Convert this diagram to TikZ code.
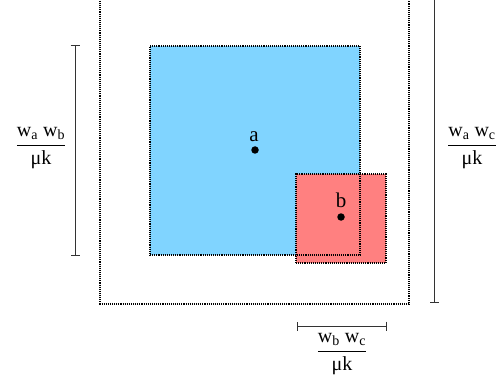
\documentclass[tikz,border=0pt]{standalone}
\usepackage{amsmath}
\usepackage{fontspec}
\setmainfont{Liberation Serif}
\usetikzlibrary{arrows.meta}
\definecolor{skyb}{HTML}{80D4FF}
\definecolor{salm}{HTML}{FF8080}
\tikzset{
  sq/.style={draw=black, densely dotted, line width=1.1pt, inner sep=0pt, outer sep=0pt},
  dimbar/.style={draw=black!80, line width=0.9pt},
  lab/.style={font=\fontsize{20}{24}\selectfont, inner sep=0pt},
  ptdot/.style={circle, fill=black, inner sep=0pt, minimum size=7.5pt},
  ptlab/.style={font=\fontsize{21}{24}\selectfont, inner sep=0pt}
}
\begin{document}
\begin{tikzpicture}[x=1pt,y=-1pt]
\useasboundingbox (0,0) rectangle (498,385);
\clip (0,0) rectangle (498,385);
% outer dotted box
\draw[sq] (100,-20) rectangle (409,304);
% fills
\node[fill=skyb, inner sep=0pt, minimum width=210pt, minimum height=209pt] (A) at (255,150.5) {};
\node[fill=salm, inner sep=0pt, minimum width=90pt, minimum height=89pt] (B) at (341,218.5) {};
% borders
\node[sq, minimum width=210pt, minimum height=209pt] (Ab) at (A) {};
\node[sq, minimum width=90pt, minimum height=89pt] (Bb) at (B) {};
% points
\node[ptdot] (pa) at (255,150) {};
\node[ptlab, anchor=base] (la) at (254,142) {a};
\node[ptdot] (pb) at (341,217) {};
\node[ptlab, anchor=base] (lb) at (341,207) {b};
% dimension bars
\coordinate (l1) at (75,45);
\coordinate (l2) at (75,256);
\draw[dimbar, {Bar[width=9pt]}-{Bar[width=9pt]}] (l1) -- (l2);
\coordinate (r1) at (434,-10);
\coordinate (r2) at (434,303);
\draw[dimbar, -{Bar[width=9pt]}] (r1) -- (r2);
\coordinate (b1) at (297,326);
\coordinate (b2) at (387,326);
\draw[dimbar, {Bar[width=9pt]}-{Bar[width=9pt]}] (b1) -- (b2);
% labels
\node[lab] (ll) at (41,148) {$\dfrac{\text{w\textsubscript{a} w\textsubscript{b}}}{\text{μk}}$};
\node[lab] (rl) at (472,148) {$\dfrac{\text{w\textsubscript{a} w\textsubscript{c}}}{\text{μk}}$};
\node[lab] (bl) at (342,354) {$\dfrac{\text{w\textsubscript{b} w\textsubscript{c}}}{\text{μk}}$};
\end{tikzpicture}
\end{document}
